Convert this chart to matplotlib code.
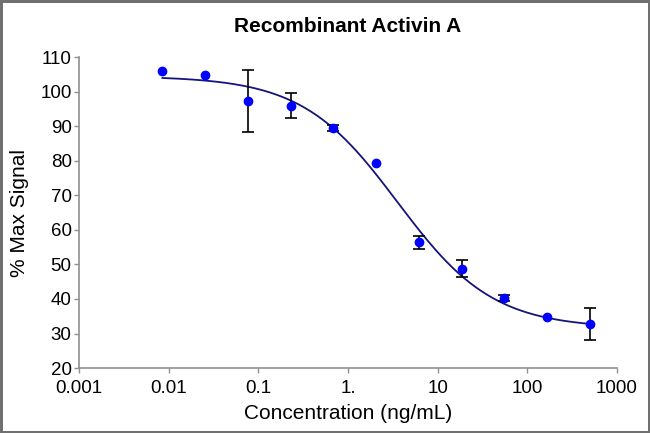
import numpy as np
import matplotlib
matplotlib.use('Agg')
from matplotlib import pyplot as plt

plt.rcParams['font.family'] = ['Liberation Sans', 'DejaVu Sans']

# data (3-fold dilution series)
conc = [0.00847, 0.0254, 0.0762, 0.229, 0.686, 2.06, 6.17, 18.5, 55.6, 166.7, 500]
signal = [105.9, 104.8, 97.2, 95.9, 89.4, 79.3, 56.4, 48.8, 40.3, 34.9, 32.7]
err = [0.0, 0.0, 9.0, 3.6, 0.9, 0.0, 1.9, 2.5, 0.8, 0.0, 4.7]

# 4PL fit parameters
top = 104.5
bottom = 31.5
ec50 = 3.57
hill = 0.814

xticks = [0.001, 0.01, 0.1, 1, 10, 100, 1000]
xticklabels = ['0.001', '0.01', '0.1', '1.', '10', '100', '1000']
yticks = list(range(20, 111, 10))

fig = plt.figure(figsize=(6.5, 4.33), dpi=100)
fig.patch.set_edgecolor('#707070')
fig.patch.set_linewidth(2.5)
ax = fig.add_axes([0.122, 0.150, 0.827, 0.718])

xfit = np.logspace(np.log10(conc[0]), np.log10(conc[-1]), 300)
yfit = bottom + (top - bottom) / (1 + (xfit / ec50) ** hill)
ax.plot(xfit, yfit, color='#14147a', lw=1.3, zorder=2)

# error bars only where they show outside the marker
eb_x = [c for c, e in zip(conc, err) if e > 0]
eb_y = [s for s, e in zip(signal, err) if e > 0]
eb_e = [e for e in err if e > 0]
ax.errorbar(eb_x, eb_y, yerr=eb_e, fmt='none', ecolor='black', elinewidth=1.2,
            capsize=4, capthick=1.2, zorder=3)
ax.plot(conc, signal, 'o', color='#0000ff', markersize=6, zorder=4)

ax.set_xscale('log')
ax.set_xlim(0.001, 1000)
ax.set_ylim(20, 110)
ax.set_xticks(xticks)
ax.set_xticklabels(xticklabels)
ax.minorticks_off()
ax.set_yticks(yticks)

for s in ['top', 'right']:
    ax.spines[s].set_visible(False)
for s in ['left', 'bottom']:
    ax.spines[s].set_color('#909090')
    ax.spines[s].set_linewidth(1.2)
ax.tick_params(axis='both', which='major', labelsize=13.5, color='#909090',
               length=3.5, width=1, direction='out')
ax.tick_params(axis='y', pad=2)
ax.tick_params(axis='x', pad=5)

ax.set_title('Recombinant Activin A', fontsize=15, fontweight='bold', pad=18)
ax.set_xlabel('Concentration (ng/mL)', fontsize=15, labelpad=5)
ax.set_ylabel('% Max Signal', fontsize=15, labelpad=8)

fig.savefig('out.png', dpi=100)
